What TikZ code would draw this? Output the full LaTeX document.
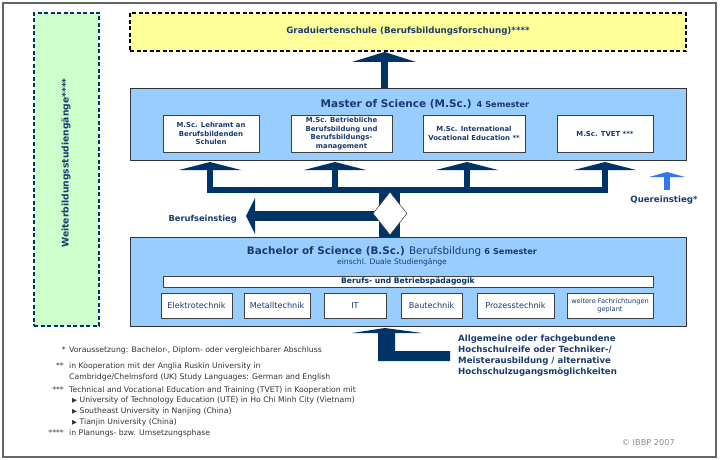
\documentclass[tikz,border=0pt]{standalone}
\usepackage{fontspec}
\setmainfont{DejaVu Sans}
\usetikzlibrary{shapes.geometric}
\definecolor{navy}{HTML}{003366}
\definecolor{txtblue}{HTML}{1A3A70}
\definecolor{boxblue}{HTML}{99CCFF}
\definecolor{lgreen}{HTML}{CCFFCC}
\definecolor{lyellow}{HTML}{FFFF99}
\definecolor{qblue}{HTML}{3377EE}
\definecolor{notegray}{HTML}{333333}
\newcommand{\fs}[1]{\fontsize{#1}{#1}\selectfont}
\newcommand{\fsl}[2]{\fontsize{#1}{#2}\selectfont}
\begin{document}
\begin{tikzpicture}[x=1pt,y=-1pt,
  bigbox/.style={draw=black!80, line width=0.8pt, fill=boxblue, inner sep=0pt},
  subbox/.style={draw=black!75, line width=0.8pt, fill=white, inner sep=1pt, align=center, text=txtblue},
  dashbox/.style={line width=1.1pt, dash pattern=on 4pt off 2.5pt, inner sep=0pt},
  arrowfill/.style={fill=navy, draw=none},
  note/.style={anchor=base west, inner sep=0pt, text=notegray, font=\fs{7.7}},
  star/.style={anchor=base east, inner sep=0pt, text=notegray, font=\fs{7.7}},
  ttl/.style={text=txtblue, inner sep=0pt}]
\useasboundingbox (0,0) rectangle (720,460);
\draw[black!60, line width=1.2pt] (3,3) rectangle (716,457);

% side and top boxes
\node[dashbox, draw=navy, fill=lgreen, minimum width=65pt, minimum height=313pt] (weiter) at (66.5,169.5) {};
\node[ttl, rotate=90, font=\bfseries\fs{9.2}] (weitertxt) at (66,163) {Weiterbildungsstudiengänge****};
\node[dashbox, draw=black, fill=lyellow, minimum width=556pt, minimum height=38pt] (grad) at (408,32) {};
\node[ttl, font=\bfseries\fs{8.7}] (gradtxt) at (408,31) {Graduiertenschule (Berufsbildungsforschung)****};

% master
\node[bigbox, minimum width=556pt, minimum height=72pt] (master) at (408,124) {};
\node[ttl, anchor=base] (mastertxt) at (425,107) {{\bfseries\fs{10.5}Master of Science (M.Sc.)}\hspace{5pt}{\bfseries\fs{8.2}4 Semester}};
\node[subbox, minimum width=96pt, minimum height=37pt, font=\bfseries\fsl{6.9}{8.6}] (m1) at (211,133.5) {M.Sc. Lehramt an\\Berufsbildenden\\Schulen};
\node[subbox, minimum width=101pt, minimum height=37pt, font=\bfseries\fsl{6.9}{8.6}] (m2) at (341.5,133.5) {M.Sc. Betriebliche\\Berufsbildung und\\Berufsbildungs-\\management};
\node[subbox, minimum width=102pt, minimum height=37pt, font=\bfseries\fsl{6.9}{8.6}] (m3) at (474,133.5) {M.Sc. International\\Vocational Education **};
\node[subbox, minimum width=96pt, minimum height=37pt, font=\bfseries\fsl{6.9}{8.6}] (m4) at (605,133.5) {M.Sc. TVET ***};

% bachelor
\node[bigbox, minimum width=556pt, minimum height=89pt] (bachelor) at (408,281.5) {};
\node[ttl, anchor=base] (bachtxt) at (392,254) {{\bfseries\fs{10.4}Bachelor of Science (B.Sc.)} {\fs{10.4}Berufsbildung} {\bfseries\fs{8.2}6 Semester}};
\node[ttl, anchor=base west, font=\fs{7.6}] (einschl) at (337,264.5) {einschl. Duale Studiengänge};
\node[subbox, minimum width=490pt, minimum height=11pt, inner sep=0pt, text=navy, font=\bfseries\fs{7.6}] (bbp) at (408,281.5) {Berufs- und Betriebspädagogik};
\node[subbox, minimum width=71pt, minimum height=25pt, font=\fs{8.1}] (s1) at (196.5,305.5) {Elektrotechnik};
\node[subbox, minimum width=66pt, minimum height=25pt, font=\fs{8.1}] (s2) at (277,305.5) {Metalltechnik};
\node[subbox, minimum width=62pt, minimum height=25pt, font=\fs{8.1}] (s3) at (355,305.5) {IT};
\node[subbox, minimum width=61pt, minimum height=25pt, font=\fs{8.1}] (s4) at (431.5,305.5) {Bautechnik};
\node[subbox, minimum width=77pt, minimum height=25pt, font=\fs{8.1}] (s5) at (515.5,305.5) {Prozesstechnik};
\node[subbox, minimum width=86pt, minimum height=25pt, font=\fsl{6.6}{8.2}] (s6) at (610,305.5) {weitere Fachrichtungen\\geplant};

% arrow: master -> graduiertenschule
\fill[arrowfill] (381,62) rectangle (388,88);
\fill[arrowfill] (352,62) -- (384.5,52) -- (416,62) -- cycle;

% tree arrows to master programmes
\fill[arrowfill] (207,187) rectangle (608,193);
\foreach \cx in {210,335,467,605}{
  \fill[arrowfill] (\cx-3,169) rectangle (\cx+3,190);
  \fill[arrowfill] (\cx-31,170) -- (\cx,162) -- (\cx+31,170) -- cycle;
}
% stem from bachelor
\fill[arrowfill] (379,187) rectangle (400,237);
% Berufseinstieg arrow
\fill[arrowfill] (254,211) rectangle (380,221);
\fill[arrowfill] (255,198) -- (246,216) -- (255,234) -- cycle;
\node[diamond, draw=black!80, line width=0.5pt, fill=white, inner sep=0pt, minimum width=34pt, minimum height=43pt] (dia) at (390,213.5) {};
\node[ttl, anchor=base east, font=\bfseries\fs{8.3}] (einstieg) at (237,221) {Berufseinstieg};

% Quereinstieg
\fill[qblue] (664,176) rectangle (670,190);
\fill[qblue] (649,177) -- (667,172) -- (685,177) -- cycle;
\node[ttl, anchor=base, font=\bfseries\fs{8.6}] (quer) at (664,202) {Quereinstieg*};

% entry arrow
\fill[arrowfill] (352,333) -- (385,328) -- (422,333) -- (395,333) -- (395,351) -- (450,351) -- (450,361) -- (378,361) -- (378,333) -- cycle;
\node[ttl, anchor=north west, align=left, font=\bfseries\fsl{8.6}{11}, inner sep=0pt] (zugang) at (458,335) {Allgemeine oder fachgebundene\\Hochschulreife oder Techniker-/\\Meisterausbildung / alternative\\Hochschulzugangsmöglichkeiten};

% footnotes
\node[star] (f1s) at (66,352) {*};
\node[note] (f1) at (69,352) {Voraussetzung: Bachelor-, Diplom- oder vergleichbarer Abschluss};
\node[star] (f2s) at (64,368) {**};
\node[note] (f2) at (69,368) {in Kooperation mit der Anglia Ruskin University in};
\node[note] (f2b) at (69,379) {Cambridge/Chelmsford (UK) Study Languages: German and English};
\node[star] (f3s) at (64,392) {***};
\node[note] (f3) at (69,392) {Technical and Vocational Education and Training (TVET) in Kooperation mit};
\node[note] (f3a) at (72,402) {\fs{6.5}▶\fs{7.7} University of Technology Education (UTE) in Ho Chi Minh City (Vietnam)};
\node[note] (f3b) at (72,413) {\fs{6.5}▶\fs{7.7} Southeast University in Nanjing (China)};
\node[note] (f3c) at (72,424) {\fs{6.5}▶\fs{7.7} Tianjin University (China)};
\node[star] (f4s) at (64,435) {****};
\node[note] (f4) at (69,435) {in Planungs- bzw. Umsetzungsphase};
\node[anchor=base east, inner sep=0pt, text=black!45, font=\fs{8.2}] (copy) at (675,445) {© IBBP 2007};
\end{tikzpicture}
\end{document}
